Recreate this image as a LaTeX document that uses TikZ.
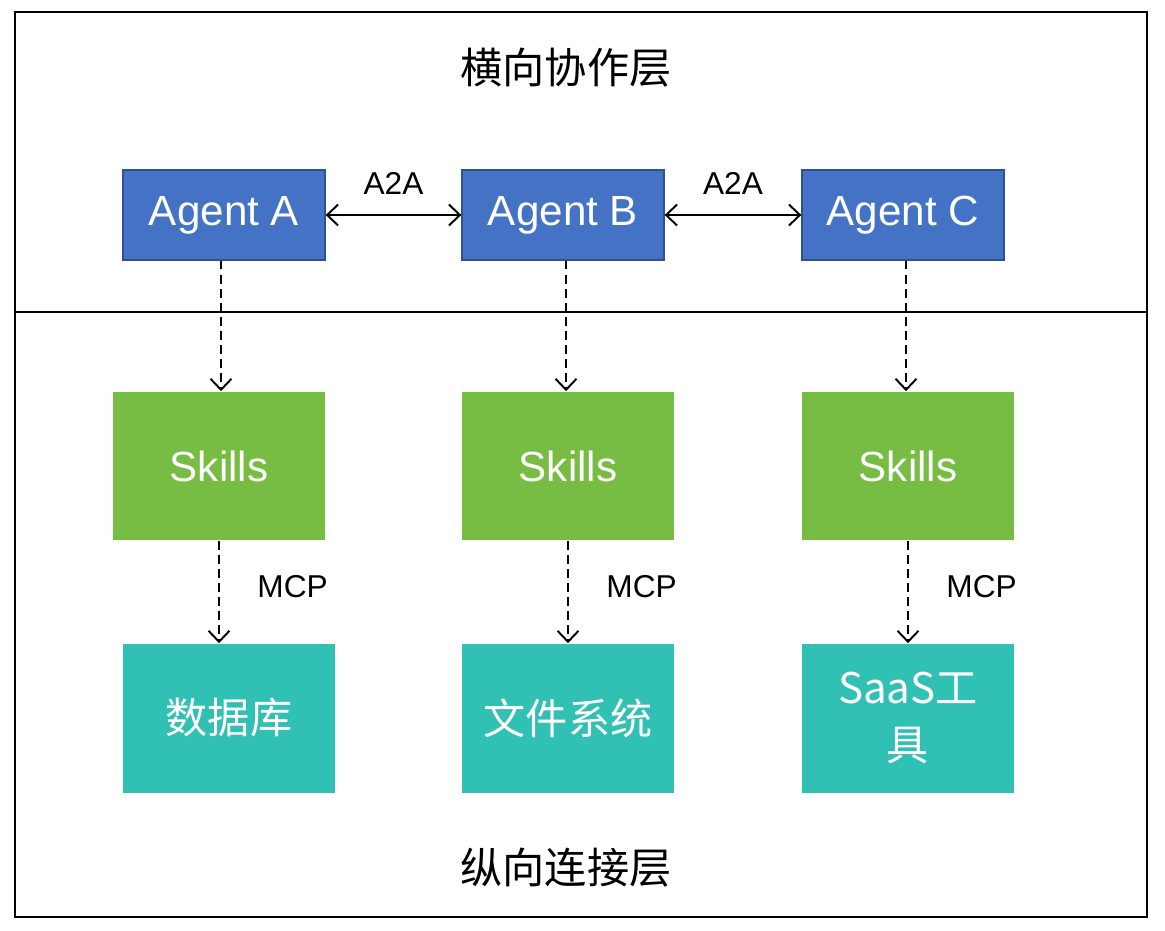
\documentclass[tikz,border=0pt]{standalone}
\usepackage{fontspec}
\setmainfont{Liberation Sans}
\newfontfamily\cjk{Noto Sans CJK SC}
\usetikzlibrary{
    arrows.meta,
    positioning,
    calc
}
\definecolor{agentblue}{HTML}{4472C4}
\definecolor{agentedge}{HTML}{2F528F}
\definecolor{skillgreen}{HTML}{78BD43}
\definecolor{toolteal}{HTML}{31C0B4}
\tikzset{
    % --- Agent block (top layer) ---
    agent/.style = {
        rectangle, draw=agentedge, thick, fill=agentblue,
        minimum width=4.04cm, minimum height=1.8cm,
        font=\fontsize{24}{28}\selectfont, text=white,
        inner sep=0pt
    },
    % --- Skill block ---
    skill/.style = {
        rectangle, fill=skillgreen,
        minimum width=4.24cm, minimum height=2.98cm,
        font=\fontsize{24}{28}\selectfont, text=white,
        inner sep=0pt
    },
    % --- Resource block (database, files, SaaS) ---
    resource/.style = {
        rectangle, fill=toolteal,
        minimum width=4.24cm, minimum height=2.98cm,
        font=\fontsize{24}{32}\selectfont\cjk, text=white,
        align=center, inner sep=0pt
    },
    % --- Layer title ---
    layer/.style = {
        font=\fontsize{24}{28}\selectfont\cjk
    },
    % --- Protocol label on connector ---
    proto/.style = {
        font=\fontsize{18}{20}\selectfont
    },
    % --- Peer link between agents ---
    peer arrow/.style = {
        {Straight Barb[length=2.2mm,width=4.2mm]}-{Straight Barb[length=2.2mm,width=4.2mm]},
        line width=1.1pt
    },
    % --- Dashed call arrow ---
    call arrow/.style = {
        -{Straight Barb[length=2.2mm,width=4.2mm]},
        dashed, dash pattern=on 5pt off 3pt, line width=1.1pt
    }
}

\begin{document}
\begin{tikzpicture}[x=0.02cm, y=-0.02cm]

% background fixes the margins
\useasboundingbox[fill=white] (0,0) rectangle (1165,930);

% ---------------------------------------------------------
% Layer frames
% ---------------------------------------------------------
\draw[line width=1.5pt] (15,12) rectangle (1147,917);
\draw[line width=1.5pt] (15,312) coordinate (sepL) -- (1147,312) coordinate (sepR);

\node[layer] (topTitle) at (566,68) {横向协作层};
\node[layer] (botTitle) at (566,868) {纵向连接层};

% ---------------------------------------------------------
% Agents
% ---------------------------------------------------------
\node[agent] (agentA) at (224,215) {Agent A};
\node[agent] (agentB) at (563,215) {Agent B};
\node[agent] (agentC) at (903,215) {Agent C};

% ---------------------------------------------------------
% Skills
% ---------------------------------------------------------
\node[skill] (skillA) at (219,466) {Skills};
\node[skill] (skillB) at (568,466) {Skills};
\node[skill] (skillC) at (908,466) {Skills};

% ---------------------------------------------------------
% Resources
% ---------------------------------------------------------
\node[resource] (resA) at (229,718) {数据库};
\node[resource] (resB) at (568,718) {文件系统};
\node[resource] (resC) at (908,718) {SaaS工\\具};

% ---------------------------------------------------------
% A2A links
% ---------------------------------------------------------
\draw[peer arrow] (agentA.east) -- (agentB.west)
    node[proto, midway, above=8pt] (a2aAB) {A2A};
\draw[peer arrow] (agentB.east) -- (agentC.west)
    node[proto, midway, above=8pt] (a2aBC) {A2A};

% ---------------------------------------------------------
% Agent -> Skills
% ---------------------------------------------------------
\draw[call arrow] ($(agentA.south)+(-3,0)$) -- ($(agentA.south |- skillA.north)+(-3,0)$);
\draw[call arrow] ($(agentB.south)+(3,0)$) -- ($(agentB.south |- skillB.north)+(3,0)$);
\draw[call arrow] ($(agentC.south)+(3,0)$) -- ($(agentC.south |- skillC.north)+(3,0)$);

% ---------------------------------------------------------
% Skills -> Resources (MCP)
% ---------------------------------------------------------
\foreach \s/\r in {skillA/resA, skillB/resB, skillC/resC} {
    \draw[call arrow] (\s.south) -- (\s.south |- \r.north)
        node[proto, midway, right=18pt, yshift=3pt] {MCP};
}

\end{tikzpicture}
\end{document}
